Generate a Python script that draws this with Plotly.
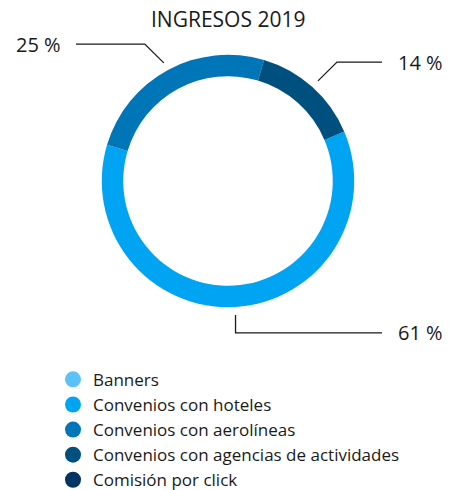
import math
import plotly.graph_objects as go

# ---- data ----
categories = [
    "Banners",
    "Convenios con hoteles",
    "Convenios con aerolíneas",
    "Convenios con agencias de actividades",
    "Comisión por click",
]
values = [0, 61, 25, 14, 0]
colors = ["#5BC2F8", "#00A4F2", "#0075B7", "#00507F", "#003566"]
title_text = "INGRESOS 2019"

# ---- geometry (pixels, in screenshot coordinates) ----
W, H = 452, 490
OFF = 8  # page body margin offset
CX, CY, R = 228, 182, 127
HOLE = 0.83
ROT = 67
FONT = "Open Sans"
TXT = "#1a1a1a"


def px(x):
    return (x - OFF) / W


def py(y):
    return 1 - (y - OFF) / H


fig = go.Figure()

fig.add_trace(go.Pie(
    labels=categories,
    values=values,
    sort=False,
    direction="clockwise",
    rotation=ROT,
    hole=HOLE,
    marker=dict(colors=colors, line=dict(width=0)),
    textinfo="none",
    hoverinfo="label+percent",
    showlegend=False,
    domain=dict(x=[px(CX - R), px(CX + R)], y=[py(CY + R), py(CY - R)]),
))

# legend entries as circle markers
for cat, col in zip(categories, colors):
    fig.add_trace(go.Scatter(
        x=[None], y=[None], mode="markers", name=cat,
        marker=dict(color=col, size=16, symbol="circle"),
        showlegend=True,
    ))

# leader lines and percentage labels computed from data
total = sum(values)
cum = 0.0
shapes = []
annotations = []
for v in values:
    if v <= 0:
        cum += v
        continue
    mid = math.radians(ROT + 360.0 * (cum + v / 2.0) / total)
    cum += v
    s, c = math.sin(mid), -math.cos(mid)
    sx, sy = CX + (R + 8) * s, CY + (R + 8) * c
    if c > 0.9:  # bottom: vertical leg
        ex, ey = sx, sy + 18
    else:
        ex, ey = sx + 19 * (1 if s > 0 else -1), sy - 19
    if s > 0:
        hx, tx, anch = 382, 396, "left"
    else:
        hx, tx, anch = 76, 63, "right"
    path = f"M {px(sx)} {py(sy)} L {px(ex)} {py(ey)} L {px(hx)} {py(ey)}"
    shapes.append(dict(type="path", xref="paper", yref="paper", path=path,
                       line=dict(color="#1a1a1a", width=1.3)))
    annotations.append(dict(x=px(tx), y=py(ey), xref="paper", yref="paper",
                            text=f"{round(100 * v / total)} %", showarrow=False,
                            xanchor=anch, yanchor="middle",
                            font=dict(family=FONT, size=20, color=TXT)))

annotations.append(dict(x=px(CX), y=py(19), xref="paper", yref="paper",
                        text=title_text, showarrow=False, xanchor="center",
                        yanchor="middle", borderpad=0,
                        font=dict(family=FONT, size=21, color=TXT)))

fig.update_layout(
    width=W, height=H,
    margin=dict(l=0, r=0, t=0, b=0),
    paper_bgcolor="white", plot_bgcolor="white",
    xaxis=dict(visible=False), yaxis=dict(visible=False),
    shapes=shapes, annotations=annotations,
    legend=dict(x=px(53), y=py(364), xanchor="left", yanchor="top",
                font=dict(family=FONT, size=17, color=TXT),
                itemsizing="trace", bgcolor="rgba(0,0,0,0)"),
    font=dict(family=FONT, color=TXT),
)

fig.write_html("out.html", config={"displayModeBar": False})
